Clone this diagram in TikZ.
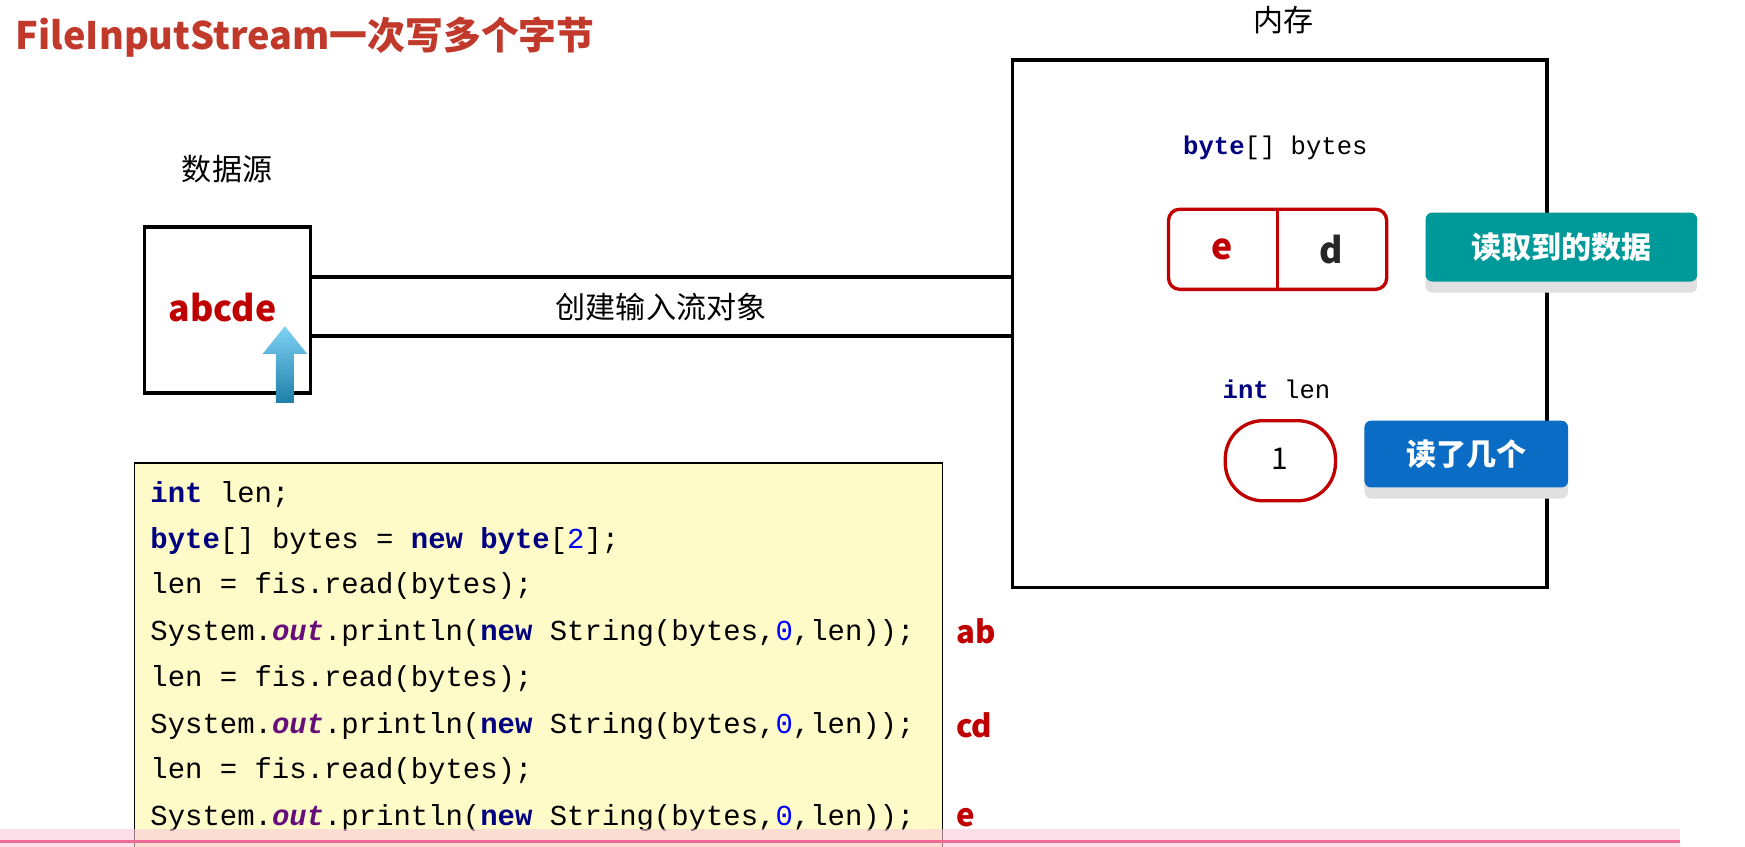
\documentclass[tikz,border=0pt]{standalone}
\usepackage{fontspec}
\setmainfont{Noto Sans CJK SC}
\setmonofont{Liberation Mono}
\usetikzlibrary{shadows}
\definecolor{titlered}{HTML}{C0392B}
\definecolor{boxred}{HTML}{C00000}
\definecolor{kwblue}{HTML}{000080}
\definecolor{numblue}{HTML}{0000FF}
\definecolor{outpurple}{HTML}{660E7A}
\definecolor{teal}{HTML}{009999}
\definecolor{btnblue}{HTML}{0A6CC4}
\definecolor{codebg}{HTML}{FEFBC9}
\definecolor{pink}{HTML}{F06A96}
\definecolor{arrtop}{HTML}{7FD3F5}
\definecolor{arrbot}{HTML}{1E7FA8}
\newcommand{\kw}[1]{\textcolor{kwblue}{\textbf{#1}}}
\newcommand{\outw}{\textcolor{outpurple}{\textbf{\textit{out}}}}
\newcommand{\nb}[1]{\textcolor{numblue}{#1}}
\tikzset{
  thickbox/.style={draw=black,line width=3pt},
  lbl/.style={inner sep=0pt,font=\fontsize{27}{30}\selectfont},
  code/.style={anchor=west,inner sep=0pt,font=\ttfamily\fontsize{26}{30}\selectfont},
  outtxt/.style={anchor=west,inner sep=0pt,text=boxred,font=\bfseries\fontsize{28}{32}\selectfont},
  btn/.style={rounded corners=6pt,inner sep=0pt,text=white,font=\bfseries\fontsize{27}{30}\selectfont},
  shadowbox/.style={fill=black!12,rounded corners=6pt,draw=none}
}
\begin{document}
\begin{tikzpicture}[x=1pt,y=-1pt]
\useasboundingbox[fill=white] (0,0) rectangle (1568,761);
% title
\node[anchor=west,inner sep=0pt,text=titlered,font=\bfseries\fontsize{34}{38}\selectfont] (title) at (14,33) {FileInputStream一次写多个字节};
\node[lbl] (mem) at (1153,18) {内存};
\node[lbl] (srclbl) at (204,152) {数据源};
% source box
\draw[thickbox] (130,204) rectangle (279,353);
\node[inner sep=0pt,text=boxred,font=\bfseries\fontsize{32}{36}\selectfont] (src) at (200,276) {abcde};
% pipe
\draw[line width=3pt] (279,249) -- (910,249);
\draw[line width=3pt] (279,302) -- (910,302);
\node[lbl] (pipe) at (594,276) {创建输入流对象};
% memory box
\draw[thickbox] (910,54) rectangle (1390,528);
% arrow
\shade[top color=arrtop,bottom color=arrbot]
  (248,362) -- (248,318) -- (236,318) -- (256,293) -- (276,318) -- (264,318) -- (264,362) -- cycle;
% bytes
\node[anchor=center,inner sep=0pt,font=\ttfamily\fontsize{23}{28}\selectfont] (bytelbl) at (1146,133) {\kw{byte}[] bytes};
\draw[boxred,line width=3pt,rounded corners=10pt] (1050,188) rectangle (1246,260);
\draw[boxred,line width=2.5pt] (1148,188) -- (1148,260);
\node[inner sep=0pt,text=boxred,font=\bfseries\fontsize{32}{36}\selectfont] (ce) at (1098,224) {e};
\node[inner sep=0pt,text=black!85,font=\bfseries\fontsize{32}{36}\selectfont] (cd) at (1196,224) {d};
\fill[shadowbox] (1281,199) rectangle (1525,263);
\fill[teal,rounded corners=6pt] (1281,191) rectangle (1525,253);
\node[btn] (readdata) at (1403,222) {读取到的数据};
% len
\node[inner sep=0pt,font=\ttfamily\fontsize{23}{28}\selectfont] (lenlbl) at (1147,350) {\kw{int} len};
\draw[boxred,line width=3pt,rounded corners=34pt] (1101,378) rectangle (1200,450);
\node[inner sep=0pt,font=\fontsize{27}{30}\selectfont] (one) at (1150,412) {1};
\fill[shadowbox] (1226,386) rectangle (1409,448);
\fill[btnblue,rounded corners=6pt] (1226,378) rectangle (1409,438);
\node[btn] (readn) at (1318,408) {读了几个};
% code box
\draw[fill=codebg,draw=black,line width=1pt] (121,416) rectangle (847,765);
\node[code] (l1) at (135,444) {\kw{int} len;};
\node[code] (l2) at (135,486) {\kw{byte}[] bytes = \kw{new} \kw{byte}[\nb{2}];};
\node[code] (l3) at (135,527) {len = fis.read(bytes);};
\node[code] (l4) at (135,569) {System.\outw.println(\kw{new} String(bytes,\nb{0},len));};
\node[code] (l5) at (135,610) {len = fis.read(bytes);};
\node[code] (l6) at (135,652) {System.\outw.println(\kw{new} String(bytes,\nb{0},len));};
\node[code] (l7) at (135,693) {len = fis.read(bytes);};
\node[code] (l8) at (135,735) {System.\outw.println(\kw{new} String(bytes,\nb{0},len));};
\node[outtxt] (o1) at (859,567) {ab};
\node[outtxt] (o2) at (859,652) {cd};
\node[outtxt] (o3) at (859,735) {e};
% progress bar
\fill[pink!35,opacity=0.6] (0,745) rectangle (1510,761);
\draw[pink,line width=3pt] (0,756) -- (1510,756);
\end{tikzpicture}
\end{document}
